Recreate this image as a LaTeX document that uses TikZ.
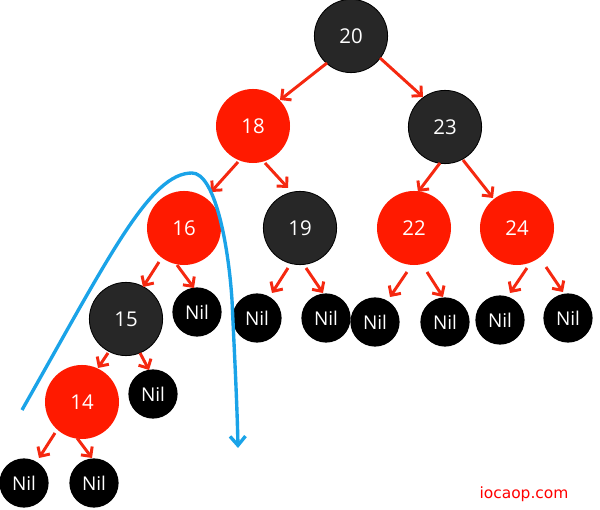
\documentclass[tikz,border=0pt]{standalone}
\usepackage{fontspec}
\setmainfont{Open Sans}
\newfontfamily\wmfont{DejaVu Sans}
\usetikzlibrary{arrows.meta,calc}
\definecolor{rbred}{HTML}{FF1A00}
\definecolor{edgered}{HTML}{F52810}
\definecolor{rbdark}{HTML}{272727}
\definecolor{curveblue}{HTML}{1AA3E8}
\definecolor{wmred}{HTML}{FF0000}
\begin{document}
\begin{tikzpicture}[x=0.025cm,y=-0.025cm,
  rednode/.style={circle,fill=rbred,text=white,minimum size=1.85cm,inner sep=0pt,outer sep=0pt,font=\fontsize{14.5}{16}\selectfont},
  darknode/.style={circle,fill=rbdark,draw=black,line width=0.6pt,text=white,minimum size=1.83cm,inner sep=0pt,outer sep=0pt,font=\fontsize{14.5}{16}\selectfont},
  nilnode/.style={circle,fill=black,text=white,minimum size=1.23cm,inner sep=0pt,outer sep=0pt,font=\fontsize{13.5}{15}\selectfont},
  treeedge/.style={draw=edgered,line width=2.1pt,-{Straight Barb[length=5pt,width=10pt]}},
  pathcurve/.style={draw=curveblue,line width=2.4pt,-{Straight Barb[length=6.5pt,width=11pt]}},
]
\useasboundingbox (0,0) rectangle (600,510);
% nodes
\node[darknode] (n20) at (351,36) {20};
\node[rednode]  (n18) at (253,126) {18};
\node[darknode] (n23) at (445,127) {23};
\node[rednode]  (n16) at (184,228) {16};
\node[darknode] (n19) at (300,228) {19};
\node[rednode]  (n22) at (414,228) {22};
\node[rednode]  (n24) at (517,228) {24};
\node[darknode] (n15) at (126,319) {15};
\node[nilnode]  (nilA) at (197,312) {Nil};
\node[rednode]  (n14) at (82,402) {14};
\node[nilnode]  (nilB) at (153,394) {Nil};
\node[nilnode]  (nilC) at (24,483) {Nil};
\node[nilnode]  (nilD) at (94,483) {Nil};
\node[nilnode]  (nil1) at (257,318) {Nil};
\node[nilnode]  (nil2) at (326,318) {Nil};
\node[nilnode]  (nil3) at (375,322) {Nil};
\node[nilnode]  (nil4) at (445,322) {Nil};
\node[nilnode]  (nil5) at (500,320) {Nil};
\node[nilnode]  (nil6) at (568,318) {Nil};
% edges
\draw[treeedge] ($(n20)+(-24,27)$) -- ($(n18)+(27,-26)$);
\draw[treeedge] ($(n20)+(29,22)$) -- ($(n23)+(-22,-30)$);
\draw[treeedge] ($(n18)+(-15,36)$) -- ($(n16)+(27,-36)$);
\draw[treeedge] ($(n18)+(12,37)$) -- ($(n19)+(-12,-40)$);
\draw[treeedge] ($(n23)+(-5,36)$) -- ($(n22)+(4,-36)$);
\draw[treeedge] ($(n23)+(18,33)$) -- ($(n24)+(-24,-30)$);
\draw[treeedge] ($(n16)+(-25,34)$) -- ($(n15)+(17,-32)$);
\draw[treeedge] ($(n16)+(-7,37)$) -- ($(nilA)+(-3,-24)$);
\draw[treeedge] ($(n15)+(-18,34)$) -- ($(n14)+(16,-34)$);
\draw[treeedge] ($(n15)+(14,34)$) -- ($(nilB)+(-4,-24)$);
\draw[treeedge] ($(n14)+(-27,31)$) -- ($(nilC)+(15,-25)$);
\draw[treeedge] ($(n14)+(-5,36)$) -- ($(nilD)+(-2,-25)$);
\draw[treeedge] ($(n19)+(-12,40)$) -- ($(nil1)+(15,-25)$);
\draw[treeedge] ($(n19)+(6,40)$) -- ($(nil2)+(-3,-25)$);
\draw[treeedge] ($(n22)+(-7,44)$) -- ($(nil3)+(15,-25)$);
\draw[treeedge] ($(n22)+(13,44)$) -- ($(nil4)+(-2,-25)$);
\draw[treeedge] ($(n24)+(10,40)$) -- ($(nil5)+(10,-27)$);
\draw[treeedge] ($(n24)+(29,39)$) -- ($(nil6)+(-5,-26)$);
% traversal curve
\draw[pathcurve] (22,410) .. controls (110,255) and (150,173) .. (192,173)
  .. controls (214,173) and (228,240) .. (232,300)
  .. controls (234,345) and (237,400) .. (238,448);
% watermark
\node[text=wmred,font=\wmfont\fontsize{11}{13}\selectfont] (wm) at (524,494) {iocaop.com};
\end{tikzpicture}
\end{document}
